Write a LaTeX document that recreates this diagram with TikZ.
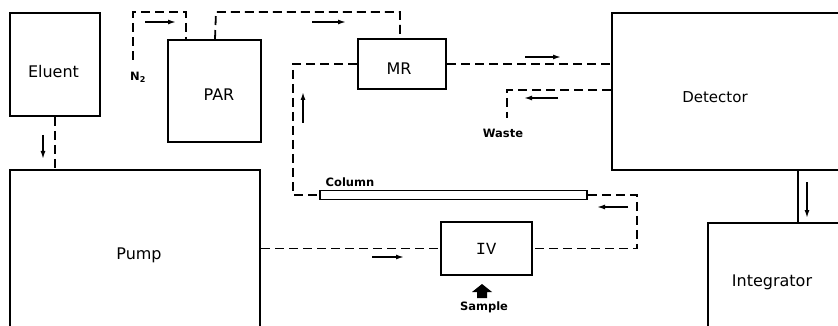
\documentclass[tikz,border=0pt]{standalone}
\usepackage{fontspec}
\setmainfont{DejaVu Sans}
\newfontfamily\monof{Liberation Mono}
\usetikzlibrary{arrows.meta}
\begin{document}
\begin{tikzpicture}[x=1pt,y=-1pt,
  box/.style={draw,line width=2pt,rectangle,inner sep=0pt},
  flow/.style={line width=1.8pt,dash pattern=on 9pt off 5pt},
  dir/.style={line width=1.5pt,-{Latex[length=8pt,width=5pt]}},
  big/.style={font=\fontsize{16}{16}\selectfont,inner sep=0pt},
  small/.style={font=\bfseries\fontsize{11.5}{12}\selectfont,inner sep=0pt}]
\useasboundingbox (0,0) rectangle (838,326);
\clip (0,0) rectangle (838,326);
% boxes
\node[box,minimum width=90pt,minimum height=103pt] (eluent) at (55,64.5) {};
\node[box,minimum width=250pt,minimum height=170pt] (pump) at (135,255) {};
\node[box,minimum width=93pt,minimum height=102pt] (par) at (214.5,91) {};
\node[box,minimum width=88pt,minimum height=50pt] (mr) at (402,64) {};
\node[box,minimum width=258pt,minimum height=157pt] (det) at (741,91.5) {};
\node[box,minimum width=162pt,minimum height=157pt] (integ) at (789,301.5) {};
\node[box,minimum width=91pt,minimum height=53pt] (iv) at (486.5,248.5) {};
\node[draw,line width=1.8pt,minimum width=267pt,minimum height=9pt,inner sep=0pt] (column) at (453.5,195) {};
% labels
\node[big] (tEluent) at (53.5,72) {Eluent};
\node[big] (tPump) at (139,255) {Pump};
\node[big] (tPar) at (219,95) {PAR};
\node[big] (tMr) at (399,69) {MR};
\node[big,font=\fontsize{15}{15}\selectfont] (tDet) at (715,97) {Detector};
\node[big] (tInteg) at (772,282) {Integrator};
\node[big,font=\monof\fontsize{17}{17}\selectfont] (tIv) at (486,249) {IV};
\node[small] (tColumn) at (350,182) {Column};
\node[small] (tWaste) at (503,133) {Waste};
\node[small] (tSample) at (484,307) {Sample};
\node[small] (tN2) at (138,77) {N$_{\mathbf 2}$};
% free ends
\coordinate (n2) at (133,60);
\coordinate (waste) at (507,118);
% connectors
\draw[flow] (eluent.south) -- (eluent.south |- pump.north);
\draw[flow] (n2) -- (133,12) -| ([xshift=19pt]par.north west);
\draw[flow] ([xshift=48pt]par.north west) -- (216,12) -| ([xshift=-2pt]mr.north);
\draw[flow] (mr.west) -- (293,64) |- (column.west);
\draw[flow] (mr.east) -- (mr.east -| det.west);
\draw[flow] (det.west |- 0,90) -| (waste);
\draw[flow] (column.east) -- (637,195) |- (iv.east);
\draw[flow] (pump.east |- iv.west) -- (iv.west);
\draw[line width=1.8pt] (det.south -| 798,0) -- (integ.north -| 798,0);
% direction arrows
\draw[dir] (43,135) -- (43,159);
\draw[dir] (145,22) -- (176,22);
\draw[dir] (312,22) -- (346,22);
\draw[dir] (303,123) -- (303,92);
\draw[dir] (525,57) -- (561,57);
\draw[dir] (558,98) -- (524,98);
\draw[dir] (628,207) -- (597,207);
\draw[dir] (372,257) -- (404,257);
\draw[dir] (807,182) -- (807,218);
% sample block arrow
\fill (472,292) -- (482,284) -- (492,292) -- (487,292) -- (487,298) -- (477,298) -- (477,292) -- cycle;
\end{tikzpicture}
\end{document}
